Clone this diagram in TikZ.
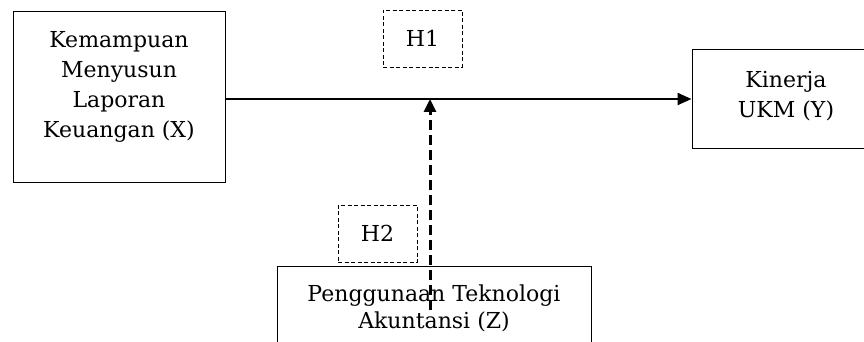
\documentclass[tikz,border=0pt]{standalone}
\usepackage{fontspec}
\setmainfont{DejaVu Serif}
\usetikzlibrary{positioning, arrows.meta}
\tikzstyle{var} = [rectangle, draw, line width=1pt, align=center, inner sep=0pt, font=\fontsize{22}{30}\selectfont]
\tikzstyle{hyp} = [rectangle, draw, dash pattern=on 4pt off 2.5pt, line width=0.8pt, minimum width=79pt, minimum height=57pt, inner sep=0pt, font=\fontsize{22}{30}\selectfont]
\tikzstyle{line} = [draw, line width=2.2pt, -{Triangle[length=14pt, width=12pt]}]
\tikzstyle{mod} = [draw, line width=3pt, dash pattern=on 10pt off 5pt, -{Triangle[length=13pt, width=12pt]}]

\begin{document}
\begin{tikzpicture}[x=1pt, y=-1pt]
        \useasboundingbox (0,0) rectangle (864,342);
        % Nodes
        \node (x) [var, anchor=north, minimum width=212pt, text height=126pt, text depth=45pt] at (119,11) {Kemampuan\\Menyusun\\Laporan\\Keuangan (X)};
        \node (y) [var, anchor=north, minimum width=188pt, text height=68pt, text depth=31pt] at (786,49) {Kinerja\\UKM (Y)};
        \node (z) [var, anchor=north, minimum width=314pt, text height=62pt, text depth=60pt, font=\fontsize{22}{27}\selectfont] at (434,266) {Penggunaan Teknologi\\Akuntansi (Z)};

        \node (h1) [hyp] at (422.5,38.5) {H1};
        \node (h2) [hyp] at (377.5,233.5) {H2};

        \coordinate (zin) at (430,310);

        % Edges
        \path [line] (x.east |- y.west) -- (y.west);
        \path [mod] (zin) -- (zin |- y.west);
\end{tikzpicture}
\end{document}
